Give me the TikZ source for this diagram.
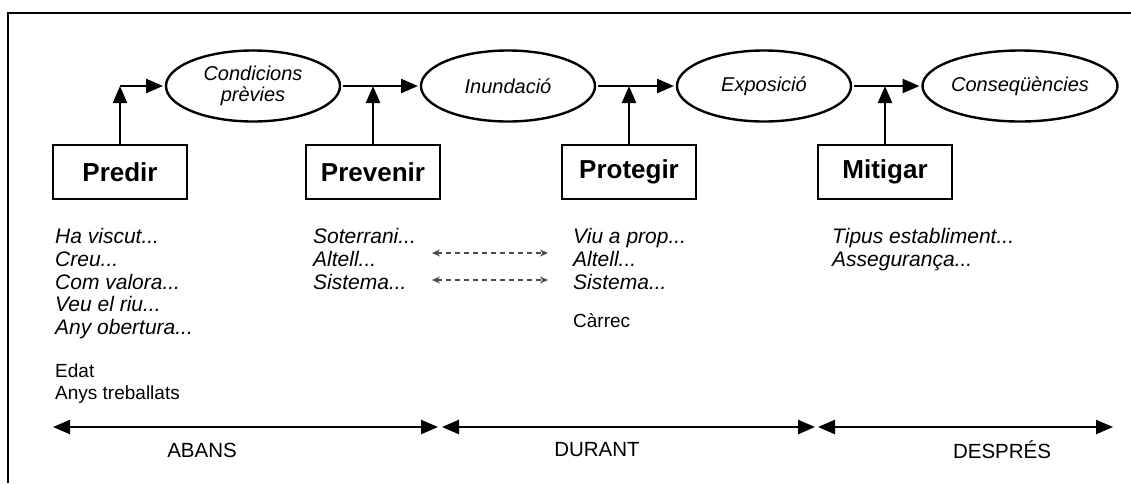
\documentclass[tikz,border=0pt]{standalone}
\usepackage{fontspec}
\setmainfont{Liberation Sans}
\usetikzlibrary{shapes.geometric,arrows.meta}

\tikzset{
  etapa/.style={draw, line width=2.4pt, minimum width=134pt, minimum height=54pt, inner sep=0pt, font=\fontsize{26}{30}\selectfont\bfseries},
  estat/.style={ellipse, draw, line width=2.4pt, minimum width=174pt, minimum height=71pt, inner sep=0pt, outer sep=3pt, align=center, font=\fontsize{20}{21}\selectfont\itshape},
  fletxa/.style={line width=2.4pt, -{Triangle[length=17pt,width=14pt]}},
  periode/.style={line width=2.4pt, {Triangle[length=17pt,width=14pt]}-{Triangle[length=17pt,width=14pt]}},
  relacio/.style={line width=1.2pt, gray!60!black, dash pattern=on 5pt off 4pt, {Stealth[length=8pt,width=7pt]}-{Stealth[length=8pt,width=7pt]}},
  pregunta/.style={anchor=north west, inner sep=0pt, align=left, font=\fontsize{21}{22.8}\selectfont\itshape},
  dada/.style={anchor=north west, inner sep=0pt, align=left, font=\fontsize{19}{21.5}\selectfont},
  fase/.style={inner sep=0pt, font=\fontsize{20.5}{24}\selectfont}
}

\begin{document}
\begin{tikzpicture}[x=1pt,y=-1pt]
\useasboundingbox (0,0) rectangle (1131,483);
\draw[line width=2.4pt] (8,483) -- (8,13) -- (1131,13);

% estats
\node[estat] (condicions) at (253,86) {Condicions\\prèvies};
\node[estat] (inundacio) at (508,86) {Inundació};
\node[estat] (exposicio) at (764,86) {Exposició};
\node[estat] (consequencies) at (1020,86) {Conseqüències};

% etapes
\node[etapa] (predir) at (120,172) {Predir};
\node[etapa] (prevenir) at (373,172) {Prevenir};
\node[etapa] (protegir) at (629,172) {Protegir};
\node[etapa] (mitigar) at (885,172) {Mitigar};

\coordinate (cpredir) at (predir.north |- condicions);
\draw[fletxa](predir) -- (cpredir);
\draw[fletxa](cpredir) -- (condicions.west);
\draw[fletxa](condicions) -- (inundacio);
\draw[fletxa](prevenir) -- (prevenir.north |- condicions);
\draw[fletxa](inundacio) -- (exposicio);
\draw[fletxa](protegir) -- (protegir.north |- inundacio);
\draw[fletxa](exposicio) -- (consequencies);
\draw[fletxa](mitigar) -- (mitigar.north |- exposicio);

% preguntes
\node[pregunta] (qpredir) at (55,228) {Ha viscut...\\Creu...\\Com valora...\\Veu el riu...\\Any obertura...};
\node[dada] (vpredir) at (55,364) {Edat\\Anys treballats};
\node[pregunta] (qprevenir) at (313,228) {Soterrani...\\Altell...\\Sistema...};
\node[pregunta] (qprotegir) at (573,228) {Viu a prop...\\Altell...\\Sistema...};
\node[dada] (vprotegir) at (573,313) {Càrrec};
\node[pregunta] (qmitigar) at (832,228) {Tipus establiment...\\Assegurança...};

\coordinate (ra0) at (432,253);
\coordinate (ra1) at (548,253);
\coordinate (rb0) at (432,280);
\coordinate (rb1) at (548,280);
\draw[relacio](ra0) -- (ra1);
\draw[relacio](rb0) -- (rb1);

% periodes
\coordinate (t0) at (53,427);
\coordinate (t1) at (438,427);
\coordinate (t2) at (442,427);
\coordinate (t3) at (815,427);
\coordinate (t4) at (818,427);
\coordinate (t5) at (1113,427);
\draw[periode](t0) -- (t1);
\draw[periode](t2) -- (t3);
\draw[periode](t4) -- (t5);
\node[fase] (abans) at (202,450) {ABANS};
\node[fase] (durant) at (597,450) {DURANT};
\node[fase] (despres) at (1002,450) {DESPRÉS};
\end{tikzpicture}
\end{document}
